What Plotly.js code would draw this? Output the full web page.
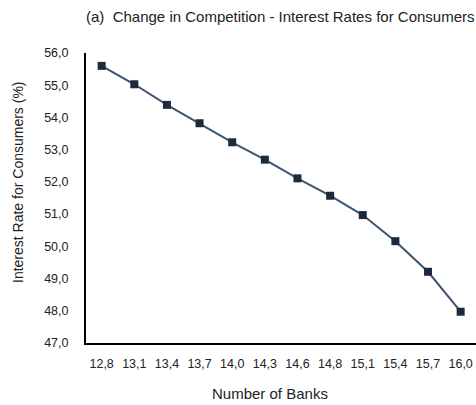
<!DOCTYPE html>
<html>
<head>
<meta charset="utf-8">
<script src="https://cdn.plot.ly/plotly-3.0.1.min.js"></script>
<style>html,body{margin:0;padding:0;background:#fff;}#chart{width:476px;height:405px;}</style>
</head>
<body>
<div id="chart"></div>
<script>
const categories = ["12,8","13,1","13,4","13,7","14,0","14,3","14,6","14,8","15,1","15,4","15,7","16,0"];
const interestRates = [55.6, 55.03, 54.39, 53.82, 53.23, 52.69, 52.11, 51.57, 50.97, 50.16, 49.21, 47.97];
const yTickVals = [47,48,49,50,51,52,53,54,55,56];
const yTickText = ["47,0","48,0","49,0","50,0","51,0","52,0","53,0","54,0","55,0","56,0"];
const chartTitle = "(a)  Change in Competition - Interest Rates for Consumers";
const xTitle = "Number of Banks";
const yTitle = "Interest Rate for Consumers (%)";

const font = "Liberation Sans, Arial, sans-serif";
const trace = {
  x: categories.map((c, i) => i),
  y: interestRates,
  type: "scatter",
  mode: "lines+markers",
  line: {color: "#3b5570", width: 2},
  marker: {symbol: "square", size: 8, color: "#1d2a3b"},
  hoverinfo: "skip"
};

const pw = 476 - 86, ph = 405 - 53 - 62;
function px(x){ return (x - 86) / pw; }
function py(y){ return (405 - 62 - y) / ph; }

const layout = {
  width: 476, height: 405,
  margin: {l: 86, r: 0, t: 53, b: 62},
  paper_bgcolor: "#fff", plot_bgcolor: "#fff",
  showlegend: false,
  font: {family: font, size: 12, color: "#222"},
  xaxis: {
    range: [-0.48, 11.47],
    tickvals: categories.map((c, i) => i),
    ticktext: categories,
    showgrid: false, zeroline: false,
    showline: true, linecolor: "#000", linewidth: 2,
    ticks: "outside", ticklen: 8, tickcolor: "rgba(0,0,0,0)",
    tickfont: {family: font, size: 12.5, color: "#222"}
  },
  yaxis: {
    range: [47, 56],
    tickvals: yTickVals,
    ticktext: yTickText,
    showgrid: false, zeroline: false,
    showline: true, linecolor: "#000", linewidth: 2,
    ticks: "outside", ticklen: 13, tickcolor: "rgba(0,0,0,0)",
    tickfont: {family: font, size: 12.5, color: "#222"}
  },
  annotations: [
    {text: chartTitle, xref: "paper", yref: "paper", x: px(280), y: py(17), xanchor: "center", yanchor: "middle", showarrow: false, font: {family: font, size: 15, color: "#222"}},
    {text: xTitle, xref: "paper", yref: "paper", x: px(270), y: py(393), showarrow: false, xanchor: "center", yanchor: "middle", font: {family: font, size: 15, color: "#222"}},
    {text: yTitle, xref: "paper", yref: "paper", x: px(18), y: py(182), showarrow: false, xanchor: "center", yanchor: "middle", textangle: -90, font: {family: font, size: 14, color: "#222"}}
  ]
};

Plotly.newPlot("chart", [trace], layout, {staticPlot: true, displayModeBar: false});
</script>
</body>
</html>
